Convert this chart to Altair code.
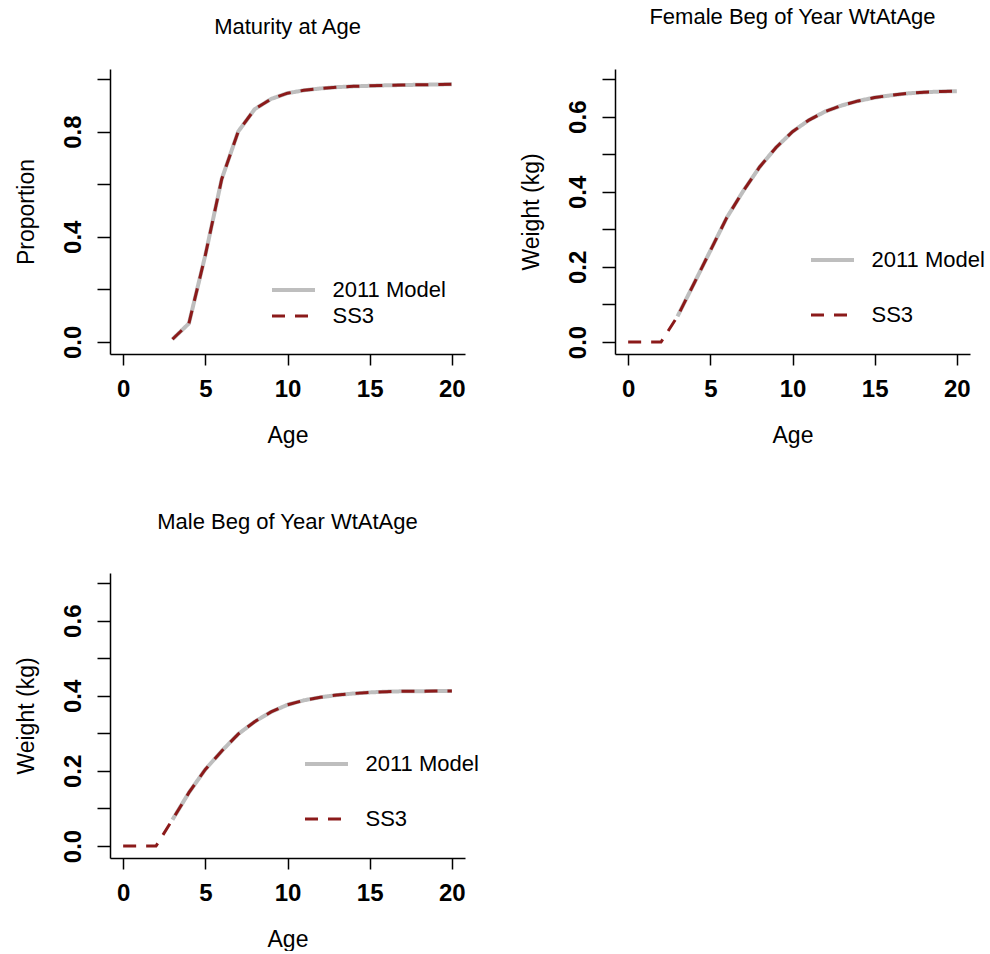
import altair as alt
import pandas as pd

SERIES = ["2011 Model", "SS3"]
COLORS = ["#BEBEBE", "#8B1A1A"]
DASHES = [[1, 0], [13, 10]]
WIDTHS = [4, 3]
FONT = "Liberation Sans"

# Maturity at age
mat_age_2011 = list(range(3, 21))
mat_2011 = [0.01, 0.07, 0.33, 0.62, 0.80, 0.885, 0.924, 0.946, 0.957, 0.964,
            0.969, 0.972, 0.974, 0.976, 0.977, 0.978, 0.979, 0.980]
mat_age_ss3 = list(range(3, 21))
mat_ss3 = [0.01, 0.07, 0.33, 0.62, 0.80, 0.885, 0.924, 0.946, 0.957, 0.964,
           0.969, 0.972, 0.974, 0.976, 0.977, 0.978, 0.979, 0.980]

# Female beginning-of-year weight at age
fem_age_2011 = list(range(3, 21))
fem_2011 = [0.068, 0.155, 0.243, 0.331, 0.402, 0.466, 0.518, 0.560, 0.591,
            0.614, 0.630, 0.642, 0.651, 0.657, 0.662, 0.665, 0.667, 0.668]
fem_age_ss3 = list(range(0, 21))
fem_ss3 = [0.0, 0.0, 0.0, 0.068, 0.155, 0.243, 0.331, 0.402, 0.466, 0.518,
           0.560, 0.591, 0.614, 0.630, 0.642, 0.651, 0.657, 0.662, 0.665,
           0.667, 0.668]

# Male beginning-of-year weight at age
male_age_2011 = list(range(3, 21))
male_2011 = [0.070, 0.142, 0.204, 0.253, 0.298, 0.331, 0.357, 0.376, 0.388,
             0.396, 0.402, 0.406, 0.409, 0.411, 0.412, 0.412, 0.413, 0.413]
male_age_ss3 = list(range(0, 21))
male_ss3 = [0.0, 0.0, 0.0, 0.070, 0.142, 0.204, 0.253, 0.298, 0.331, 0.357,
            0.376, 0.388, 0.396, 0.402, 0.406, 0.409, 0.411, 0.412, 0.412,
            0.413, 0.413]

x_ticks = [0, 5, 10, 15, 20]
y_ticks_mat = [0.0, 0.2, 0.4, 0.6, 0.8, 1.0]
y_ticks_wt = [0.0, 0.1, 0.2, 0.3, 0.4, 0.5, 0.6, 0.7]


def frame(a1, v1, a2, v2):
    return pd.concat([
        pd.DataFrame({"Age": a1, "Value": v1, "Series": SERIES[0]}),
        pd.DataFrame({"Age": a2, "Value": v2, "Series": SERIES[1]}),
    ], ignore_index=True)


def panel(df, title, title_offset, ytitle, ydomain, yticks, label_expr,
          legend_x, legend_y, row_pad):
    legend = alt.Legend(
        title=None, orient="none", legendX=legend_x, legendY=legend_y,
        symbolType="M-4,0H4", symbolSize=115.6, symbolStrokeWidth=3.5,
        symbolOffset=10.5, labelOffset=28, labelFont=FONT, labelFontSize=22,
        labelColor="black", rowPadding=row_pad, padding=0, offset=0,
        labelLimit=0,
    )
    x_axis = alt.Axis(
        values=x_ticks, title="Age", grid=False, format="d",
        domainColor="black", domainWidth=1.5, tickColor="black",
        tickWidth=1.5, tickSize=11, labelFont=FONT, labelFontSize=24,
        labelFontWeight="bold", labelColor="black", labelPadding=12,
        labelFlush=False, labelOverlap=False, titleFont=FONT,
        titleFontSize=23, titleFontWeight="normal", titleColor="black",
        titlePadding=23,
    )
    y_axis = alt.Axis(
        values=yticks, title=ytitle, grid=False, labelExpr=label_expr,
        domainColor="black", domainWidth=1.5, tickColor="black",
        tickWidth=1.5, tickSize=13, labelFont=FONT, labelFontSize=24,
        labelFontWeight="bold", labelColor="black", labelPadding=12,
        labelAngle=270, labelAlign="center", labelBaseline="bottom",
        labelFlush=False, labelOverlap=False, titleFont=FONT,
        titleFontSize=23, titleFontWeight="normal", titleColor="black",
        titlePadding=23,
    )
    return alt.Chart(df).mark_line(strokeCap="butt").encode(
        x=alt.X("Age:Q", scale=alt.Scale(domain=[-0.8, 20.8], nice=False,
                                         zero=False), axis=x_axis),
        y=alt.Y("Value:Q", scale=alt.Scale(domain=ydomain, nice=False,
                                           zero=False), axis=y_axis),
        color=alt.Color("Series:N", scale=alt.Scale(domain=SERIES,
                                                    range=COLORS),
                        legend=legend),
        strokeDash=alt.StrokeDash("Series:N",
                                  scale=alt.Scale(domain=SERIES,
                                                  range=DASHES),
                                  legend=legend),
        strokeWidth=alt.StrokeWidth("Series:N",
                                    scale=alt.Scale(domain=SERIES,
                                                    range=WIDTHS),
                                    legend=None),
    ).properties(
        width=355, height=285,
        title=alt.TitleParams(text=title, font=FONT, fontSize=22,
                              fontWeight="normal", color="black",
                              anchor="middle", frame="group",
                              baseline="alphabetic", offset=title_offset),
    )


expr_mat = "(round(datum.value*10) % 4 == 0) ? format(datum.value, '.1f') : ''"
expr_wt = "(round(datum.value*10) % 2 == 0) ? format(datum.value, '.1f') : ''"

p1 = panel(frame(mat_age_2011, mat_2011, mat_age_ss3, mat_ss3),
           "Maturity at Age", 13, "Proportion", [-0.046, 1.038],
           y_ticks_mat, expr_mat, 162, 210, 4)
p2 = panel(frame(fem_age_2011, fem_2011, fem_age_ss3, fem_ss3),
           "Female Beg of Year WtAtAge", 23, "Weight (kg)", [-0.032, 0.727],
           y_ticks_wt, expr_wt, 196, 180, 33)
p3 = panel(frame(male_age_2011, male_2011, male_age_ss3, male_ss3),
           "Male Beg of Year WtAtAge", 22, "Weight (kg)", [-0.032, 0.727],
           y_ticks_wt, expr_wt, 195, 180, 33)

chart = alt.concat(
    p1, p2, p3, columns=2, spacing={"row": 64, "column": 40}
).resolve_scale(
    x="independent", y="independent", color="independent",
    strokeDash="independent", strokeWidth="independent",
).resolve_legend(
    color="independent", strokeDash="independent", strokeWidth="independent",
).configure_view(stroke=None).properties(
    padding={"left": 14, "top": 6, "right": 0, "bottom": 0},
    background="white",
)

chart.save("out.html", embed_options={"renderer": "svg", "actions": False})
